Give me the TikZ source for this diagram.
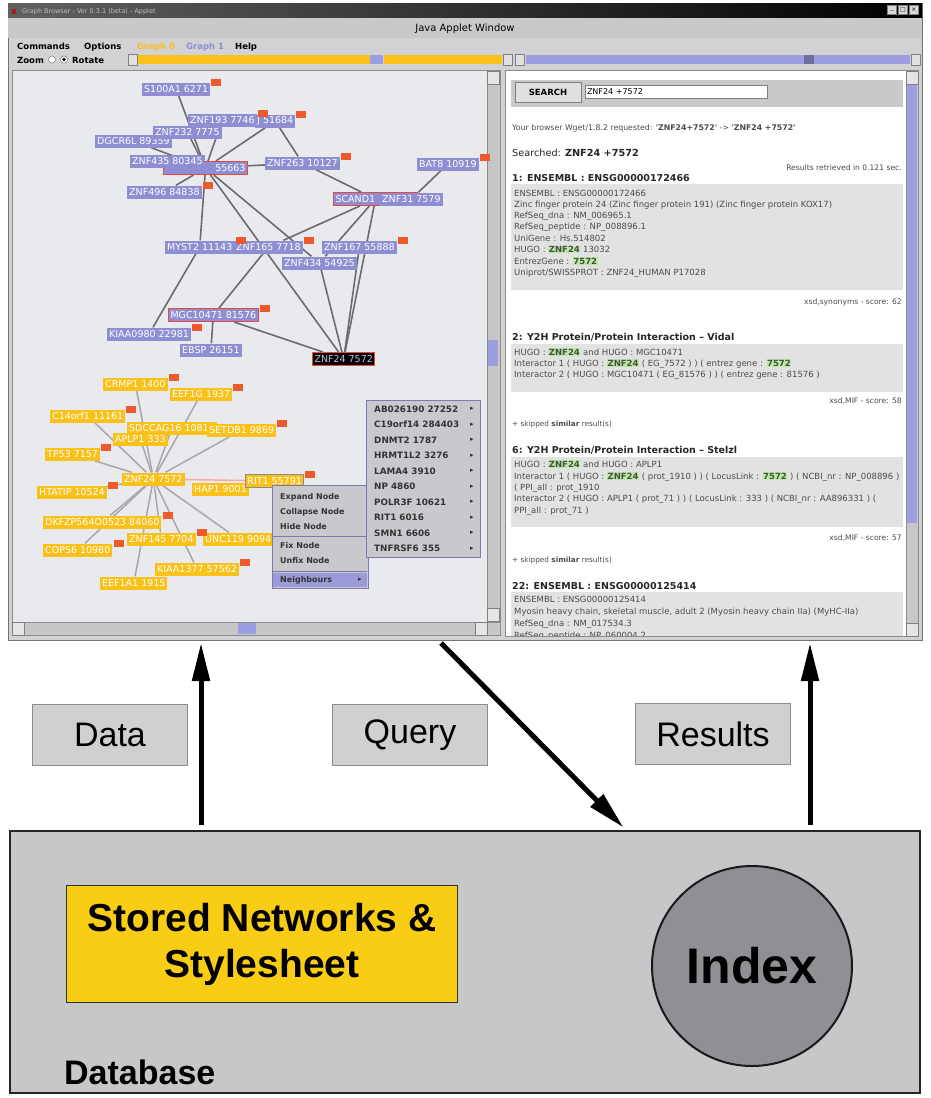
\documentclass[tikz,border=0pt]{standalone}
\usepackage{fontspec}
\setmainfont{Liberation Sans}
\newfontfamily\dvs{DejaVu Sans}
\usetikzlibrary{arrows.meta,positioning}

\definecolor{canvas}{HTML}{E9EAEE}
\definecolor{chrome}{HTML}{D2D2D4}
\definecolor{pnodec}{HTML}{8E8FD2}
\definecolor{ynodec}{HTML}{F9C11A}
\definecolor{badgec}{HTML}{EF5A2C}
\definecolor{selc}{HTML}{E8473A}
\definecolor{edgec}{HTML}{6C6C70}
\definecolor{yedgec}{HTML}{A8A8AC}
\definecolor{menuc}{HTML}{C9C9CD}
\definecolor{menuhl}{HTML}{9A9BD8}
\definecolor{scrollc}{HTML}{9C9EE0}
\definecolor{resbox}{HTML}{E2E2E2}
\definecolor{hlgreen}{HTML}{B9EAA2}
\definecolor{lblbox}{HTML}{D0D0D0}
\definecolor{dbfill}{HTML}{C6C7C9}
\definecolor{storec}{HTML}{F9CD15}
\definecolor{indexc}{HTML}{8F9094}

\pgfdeclarelayer{bg}
\pgfdeclarelayer{edges}
\pgfsetlayers{bg,edges,main}

\newcommand\hlz[1]{{\setlength\fboxsep{0.6pt}\colorbox{hlgreen}{\textbf{#1}}}}
\newcommand\bdg[1]{\fill[badgec] ([shift={(1,-3)}]#1.north east) rectangle +(10,7);}

\tikzset{
  pn/.style={fill=pnodec, text=white, font=\dvs\fontsize{9.5}{10}\selectfont,
    inner xsep=2, inner ysep=1, minimum height=13, anchor=west},
  yn/.style={pn, fill=ynodec},
  sel/.style={draw=selc, line width=1},
  ed/.style={draw=edgec, line width=1.6},
  yed/.style={draw=yedgec, line width=1.5},
  menut/.style={anchor=base west, inner sep=0, font=\dvs\bfseries\fontsize{8.5}{9}\selectfont},
  popitem/.style={anchor=west, inner sep=0, font=\dvs\bfseries\fontsize{8}{9}\selectfont, text=black!80},
  subitem/.style={anchor=west, inner sep=0, font=\dvs\bfseries\fontsize{8.8}{9}\selectfont, text=black!80},
  subarr/.style={subitem, font=\dvs\fontsize{7}{7}\selectfont},
  rt/.style={anchor=base west, inner sep=0, font=\dvs\fontsize{8.5}{9}\selectfont, text=black!70},
  rr/.style={rt, anchor=base east, font=\dvs\fontsize{7.6}{9}\selectfont},
  rs/.style={rt, font=\dvs\fontsize{7.3}{8}\selectfont},
  rh/.style={anchor=base west, inner sep=0, font=\dvs\bfseries\fontsize{9.5}{10}\selectfont, text=black!85},
  lbl/.style={fill=lblbox, draw=black!45, minimum width=155, minimum height=61,
    font=\fontsize{34}{36}\selectfont},
  bigarr/.style={line width=5, -{Triangle[length=38pt,width=17pt]}}
}

\begin{document}
\begin{tikzpicture}[x=1pt,y=-1pt]
  \useasboundingbox (0,0) rectangle (930,1098);

  % applet window
  \begin{pgfonlayer}{bg}
    \fill[white] (0,0) rectangle (930,1098);
    \draw[fill=chrome, draw=black!55] (8,3) rectangle (922,640);
    \shade[left color=black!62, right color=black] (8,3) rectangle (922,18);
    \fill[black!21] (8,18) rectangle (922,38);
    \draw[fill=canvas, draw=black!45] (12,70) rectangle (487,622);
    \draw[fill=white, draw=black!45] (505,70) rectangle (906,636);
  \end{pgfonlayer}
  \node[anchor=base west, inner sep=0, text=red!80!black, font=\dvs\bfseries\fontsize{9}{9}\selectfont] (xicon) at (11,14) {x};
  \node[anchor=base west, inner sep=0, text=black!25, font=\dvs\fontsize{6.5}{7}\selectfont] (wtitle) at (22,13) {Graph Browser - Ver 0.3.1 (beta) - Applet};
  \node[draw=black!50, fill=black!15, minimum size=9, inner sep=0, font=\dvs\fontsize{6}{6}\selectfont] (wb1) at (892,10) {\_};
  \node[draw=black!50, fill=black!15, minimum size=9, inner sep=0, font=\dvs\fontsize{6}{6}\selectfont] (wb2) at (903,10) {□};
  \node[draw=black!50, fill=black!15, minimum size=9, inner sep=0, font=\dvs\fontsize{6}{6}\selectfont] (wb3) at (914,10) {×};
  \node[font=\dvs\fontsize{10}{10}\selectfont, inner sep=0] (banner) at (465,29) {Java Applet Window};

  % menu and tool bar
  \node[menut] (mcmd) at (17,49) {Commands};
  \node[menut] (mopt) at (84,49) {Options};
  \node[menut, text=ynodec] (mg0) at (137,49) {Graph 0};
  \node[menut, text=pnodec] (mg1) at (186,49) {Graph 1};
  \node[menut] (mhelp) at (235,49) {Help};
  \node[menut] (zoom) at (17,63) {Zoom};
  \draw[fill=white, draw=black!60] (52,59.5) circle (3.6);
  \draw[fill=white, draw=black!60] (64,59.5) circle (3.6);
  \fill (64,59.5) circle (1.8);
  \node[menut] (rotate) at (72,63) {Rotate};
  \draw[fill=black!12, draw=black!50] (128,54) rectangle (137,65);
  \fill[ynodec] (138,55) rectangle (370,64);
  \fill[scrollc] (370,55) rectangle (383,64);
  \fill[ynodec] (384,55) rectangle (502,64);
  \draw[fill=black!12, draw=black!50] (503,54) rectangle (512,65);
  \draw[fill=black!12, draw=black!50] (515,54) rectangle (524,65);
  \fill[scrollc] (526,55) rectangle (910,64);
  \fill[scrollc!70!black] (804,55) rectangle (814,64);
  \draw[fill=black!12, draw=black!50] (911,54) rectangle (920,65);

  % scroll bars
  \draw[fill=black!22, draw=black!45] (487,70) rectangle (500,622);
  \draw[fill=black!10, draw=black!50] (487,71) rectangle (499,84);
  \draw[fill=black!10, draw=black!50] (487,608) rectangle (499,621);
  \fill[scrollc] (488,340) rectangle (498,366);
  \draw[fill=black!22, draw=black!45] (12,622) rectangle (500,635);
  \draw[fill=black!10, draw=black!50] (12,622) rectangle (24,635);
  \draw[fill=black!10, draw=black!50] (475,622) rectangle (487,635);
  \fill[scrollc] (238,623) rectangle (256,634);
  \draw[fill=black!22, draw=black!45] (906,70) rectangle (918,636);
  \draw[fill=black!10, draw=black!50] (906,71) rectangle (918,84);
  \fill[scrollc] (907,85) rectangle (917,523);
  \draw[fill=black!10, draw=black!50] (906,623) rectangle (918,636);

  % graph 1 (purple)
  \node[pn] (s100a1) at (142,89) {S100A1 6271};
  \node[pn] (n51684) at (255,121) {J 51684};
  \node[pn] (znf193) at (188,120) {ZNF193 7746};
  \node[pn] (dgcr6l) at (95,141) {DGCR6L 89359};
  \node[pn] (znf232) at (153,132) {ZNF232 7775};
  \node[pn, sel, text width=80, align=right] (n55663) at (163,168) {55663};
  \node[pn] (znf435) at (130,161) {ZNF435 80345};
  \node[pn] (znf263) at (265,163) {ZNF263 10127};
  \node[pn] (bat8) at (417,164) {BAT8 10919};
  \node[pn] (znf496) at (127,192) {ZNF496 84838};
  \node[pn, sel, text width=80, align=left] (scand1) at (333,199) {SCAND1};
  \node[pn] (znf31) at (380,199) {ZNF31 7579};
  \node[pn] (znf165) at (234,247) {ZNF165 7718};
  \node[pn] (myst2) at (165,247) {MYST2 11143};
  \node[pn] (znf167) at (322,247) {ZNF167 55888};
  \node[pn] (znf434) at (282,263) {ZNF434 54925};
  \node[pn, sel] (mgc10471) at (168,315) {MGC10471 81576};
  \node[pn] (kiaa0980) at (107,334) {KIAA0980 22981};
  \node[pn] (ebsp) at (180,350) {EBSP 26151};
  \node[pn, sel, fill=black, text=pnodec!55!white] (znf24p) at (312,359) {ZNF24 7572};
  \bdg{s100a1} \bdg{znf193} \bdg{n51684} \bdg{znf263} \bdg{bat8} \bdg{znf496}
  \bdg{myst2} \bdg{znf165} \bdg{znf167} \bdg{mgc10471} \bdg{kiaa0980}

  \begin{pgfonlayer}{edges}
    \draw[ed] (n55663) -- (s100a1);
    \draw[ed] (n55663) -- (znf193);
    \draw[ed] (n55663) -- (znf232);
    \draw[ed] (n55663) -- (dgcr6l);
    \draw[ed] (n55663) -- (znf496);
    \draw[ed] (n55663) -- (myst2);
    \draw[ed] (n55663) -- (n51684);
    \draw[ed] (n55663) -- (znf263);
    \draw[ed] (n55663) -- (znf434);
    \draw[ed] (n55663) -- (znf24p);
    \draw[ed] (n51684) -- (znf263);
    \draw[ed] (znf263) -- (scand1);
    \draw[ed] (bat8) -- (znf31);
    \draw[ed] (scand1) -- (znf165);
    \draw[ed] (scand1) -- (znf434);
    \draw[ed] (scand1) -- (znf24p);
    \draw[ed] (znf167) -- (znf24p);
    \draw[ed] (znf434) -- (znf24p);
    \draw[ed] (mgc10471) -- (znf24p);
    \draw[ed] (znf165) -- (mgc10471);
    \draw[ed] (mgc10471) -- (ebsp);
    \draw[ed] (myst2) -- (kiaa0980);
  \end{pgfonlayer}

  % graph 0 (yellow)
  \node[yn] (crmp1) at (103,384) {CRMP1 1400};
  \node[yn] (eef1g) at (170,394) {EEF1G 1937};
  \node[yn] (c14orf1) at (50,416) {C14orf1 11161};
  \node[yn] (sdccag16) at (127,428) {SDCCAG16 10813};
  \node[yn] (setdb1) at (207,430) {SETDB1 9869};
  \node[yn] (aplp1) at (113,439) {APLP1 333};
  \node[yn] (tp53) at (45,454) {TP53 7157};
  \node[yn] (znf24y) at (122,479) {ZNF24 7572};
  \node[yn] (htatip) at (37,492) {HTATIP 10524};
  \node[yn] (hap1) at (192,489) {HAP1 9001};
  \node[yn, draw=black!45, line width=0.8] (rit1) at (245,481) {RIT1 55791};
  \node[yn] (dkfz) at (43,522) {DKFZP564O0523 84060};
  \node[yn] (znf145) at (127,539) {ZNF145 7704};
  \node[yn] (unc119) at (203,539) {UNC119 9094};
  \node[yn] (cops6) at (43,550) {COPS6 10980};
  \node[yn] (kiaa1377) at (155,569) {KIAA1377 57562};
  \node[yn] (eef1a1) at (100,583) {EEF1A1 1915};
  \bdg{crmp1} \bdg{eef1g} \bdg{c14orf1} \bdg{setdb1} \bdg{tp53} \bdg{htatip}
  \bdg{rit1} \bdg{dkfz} \bdg{znf145} \bdg{cops6} \bdg{kiaa1377}

  \begin{pgfonlayer}{edges}
    \draw[yed] (znf24y) -- (crmp1);
    \draw[yed] (znf24y) -- (eef1g);
    \draw[yed] (znf24y) -- (c14orf1);
    \draw[yed] (znf24y) -- (sdccag16);
    \draw[yed] (znf24y) -- (setdb1);
    \draw[yed] (znf24y) -- (aplp1);
    \draw[yed] (znf24y) -- (tp53);
    \draw[yed] (znf24y) -- (htatip);
    \draw[yed] (znf24y) -- (dkfz);
    \draw[yed] (znf24y) -- (znf145);
    \draw[yed] (znf24y) -- (unc119);
    \draw[yed] (znf24y) -- (cops6);
    \draw[yed] (znf24y) -- (kiaa1377);
    \draw[yed] (znf24y) -- (eef1a1);
    \draw[yed, draw=red!35] (znf24y) -- (rit1);
  \end{pgfonlayer}

  % popup menu
  \draw[fill=menuc, draw=menuhl!80!black] (272,485) rectangle (368,588);
  \node[popitem] (pm1) at (280,497) {Expand Node};
  \node[popitem] (pm2) at (280,512) {Collapse Node};
  \node[popitem] (pm3) at (280,527) {Hide Node};
  \draw[menuhl!80!black] (273,536) -- (367,536);
  \node[popitem] (pm4) at (280,546) {Fix Node};
  \node[popitem] (pm5) at (280,561) {Unfix Node};
  \draw[menuhl!80!black] (273,571) -- (367,571);
  \fill[menuhl] (273,573) rectangle (367,587);
  \node[popitem] (pm6) at (280,580) {Neighbours};
  \node[popitem, font=\dvs\fontsize{7}{7}\selectfont] (pmarr) at (358,580) {▸};

  \draw[fill=menuc, draw=menuhl!80!black] (366,400) rectangle (480,557);
  \node[subitem] (sub1) at (374,409) {AB026190 27252};
  \node[subitem] (sub2) at (374,424.5) {C19orf14 284403};
  \node[subitem] (sub3) at (374,440) {DNMT2 1787};
  \node[subitem] (sub4) at (374,455.5) {HRMT1L2 3276};
  \node[subitem] (sub5) at (374,471) {LAMA4 3910};
  \node[subitem] (sub6) at (374,486.5) {NP 4860};
  \node[subitem] (sub7) at (374,502) {POLR3F 10621};
  \node[subitem] (sub8) at (374,517.5) {RIT1 6016};
  \node[subitem] (sub9) at (374,533) {SMN1 6606};
  \node[subitem] (sub10) at (374,548.5) {TNFRSF6 355};
  \node[subarr] (sa1) at (470,409) {▸};
  \node[subarr] (sa2) at (470,424.5) {▸};
  \node[subarr] (sa3) at (470,440) {▸};
  \node[subarr] (sa4) at (470,455.5) {▸};
  \node[subarr] (sa5) at (470,471) {▸};
  \node[subarr] (sa6) at (470,486.5) {▸};
  \node[subarr] (sa7) at (470,502) {▸};
  \node[subarr] (sa8) at (470,517.5) {▸};
  \node[subarr] (sa9) at (470,533) {▸};
  \node[subarr] (sa10) at (470,548.5) {▸};

  % search results
  \begin{scope}
    \clip (506,71) rectangle (905,635);
    \fill[black!21] (511,80) rectangle (903,107);
    \node[draw=black!50, fill=black!12, minimum width=66, minimum height=20, inner sep=0,
      font=\dvs\bfseries\fontsize{8.5}{9}\selectfont] (search) at (548,92) {SEARCH};
    \node[draw=black!50, fill=white, minimum width=182, minimum height=13, inner xsep=2, inner ysep=0,
      text width=178, font=\dvs\fontsize{8}{9}\selectfont] (query-field) at (676,92) {ZNF24 +7572};
    \node[rt, font=\dvs\fontsize{7.8}{8}\selectfont] (r0) at (512,130) {Your browser Wget/1.8.2 requested: \textbf{'ZNF24+7572'} -> \textbf{'ZNF24 +7572'}};
    \node[rh, font=\dvs\fontsize{9.7}{11}\selectfont] (r1) at (512,156) {Searched: \textbf{ZNF24 +7572}};
    \node[rr] (r2) at (902,170) {Results retrieved in 0.121 sec.};
    \node[rh] (h1) at (512,181) {1: ENSEMBL : ENSG00000172466};
    \fill[resbox] (511,184) rectangle (903,290);
    \node[rt] at (514,196) {ENSEMBL : ENSG00000172466};
    \node[rt] at (514,207) {Zinc finger protein 24 (Zinc finger protein 191) (Zinc finger protein KOX17)};
    \node[rt] at (514,218) {RefSeq\_dna : NM\_006965.1};
    \node[rt] at (514,229.5) {RefSeq\_peptide : NP\_008896.1};
    \node[rt] at (514,241) {UniGene : Hs.514802};
    \node[rt] at (514,252.5) {HUGO : \hlz{ZNF24} 13032};
    \node[rt] at (514,264) {EntrezGene : \hlz{7572}};
    \node[rt] at (514,275.5) {Uniprot/SWISSPROT : ZNF24\_HUMAN P17028};
    \node[rr] at (902,304) {xsd,synonyms - score: 62};
    \node[rh] (h2) at (512,340) {2: Y2H Protein/Protein Interaction – Vidal};
    \fill[resbox] (511,344) rectangle (903,392);
    \node[rt] at (514,355) {HUGO : \hlz{ZNF24} and HUGO : MGC10471};
    \node[rt] at (514,366) {Interactor 1 ( HUGO : \hlz{ZNF24} ( EG\_7572 ) ) ( entrez gene : \hlz{7572}};
    \node[rt] at (514,377) {Interactor 2 ( HUGO : MGC10471 ( EG\_81576 ) ) ( entrez gene : 81576 )};
    \node[rr] at (902,403) {xsd,MIF - score: 58};
    \node[rs] at (512,426) {+ skipped \textbf{similar} result(s)};
    \node[rh] (h3) at (512,453) {6: Y2H Protein/Protein Interaction – Stelzl};
    \fill[resbox] (511,457) rectangle (903,527);
    \node[rt] at (514,467) {HUGO : \hlz{ZNF24} and HUGO : APLP1};
    \node[rt] at (514,479) {Interactor 1 ( HUGO : \hlz{ZNF24} ( prot\_1910 ) ) ( LocusLink : \hlz{7572} ) ( NCBI\_nr : NP\_008896 )};
    \node[rt] at (514,490) {( PPI\_all : prot\_1910};
    \node[rt] at (514,501.5) {Interactor 2 ( HUGO : APLP1 ( prot\_71 ) ) ( LocusLink : 333 ) ( NCBI\_nr : AA896331 ) (};
    \node[rt] at (514,513) {PPI\_all : prot\_71 )};
    \node[rr] at (902,540) {xsd,MIF - score: 57};
    \node[rs] at (512,562) {+ skipped \textbf{similar} result(s)};
    \node[rh] (h4) at (512,589) {22: ENSEMBL : ENSG00000125414};
    \fill[resbox] (511,592) rectangle (903,640);
    \node[rt] at (514,602) {ENSEMBL : ENSG00000125414};
    \node[rt] at (514,614) {Myosin heavy chain, skeletal muscle, adult 2 (Myosin heavy chain IIa) (MyHC-IIa)};
    \node[rt] at (514,626) {RefSeq\_dna : NM\_017534.3};
    \node[rt] at (514,638) {RefSeq\_peptide : NP\_060004.2};
  \end{scope}

  % flow between applet and database
  \coordinate (shotD) at (201,643);
  \coordinate (shotQ) at (441,643);
  \coordinate (shotR) at (810,643);
  \coordinate (dbQ) at (627,831);
  \node[lbl] (data) at (110,735) {Data};
  \node[lbl] (query) at (410,735) {Query};
  \node[lbl] (results) at (713,734) {Results};

  \node[fill=dbfill, draw=black!85, line width=2.2, minimum width=910, minimum height=262] (db) at (465,962) {};
  \node[fill=storec, draw=black!80, line width=1.2, minimum width=391, minimum height=117, align=center,
    font=\bfseries\fontsize{39}{46}\selectfont] (store) at (262,944) {Stored Networks \&\\Stylesheet};
  \node[circle, fill=indexc, draw=black!90, line width=2, minimum size=200,
    font=\bfseries\fontsize{50}{50}\selectfont] (index) at (752,966) {Index};
  \node[anchor=base west, inner sep=0, font=\bfseries\fontsize{34}{36}\selectfont] (dbname) at (64,1084) {Database};

  \draw[bigarr, shorten <=5pt] (db.north -| shotD) -- (shotD);
  \draw[bigarr, shorten <=5pt] (db.north -| shotR) -- (shotR);
  \draw[bigarr, shorten >=5pt] (shotQ) -- (dbQ);
\end{tikzpicture}
\end{document}
